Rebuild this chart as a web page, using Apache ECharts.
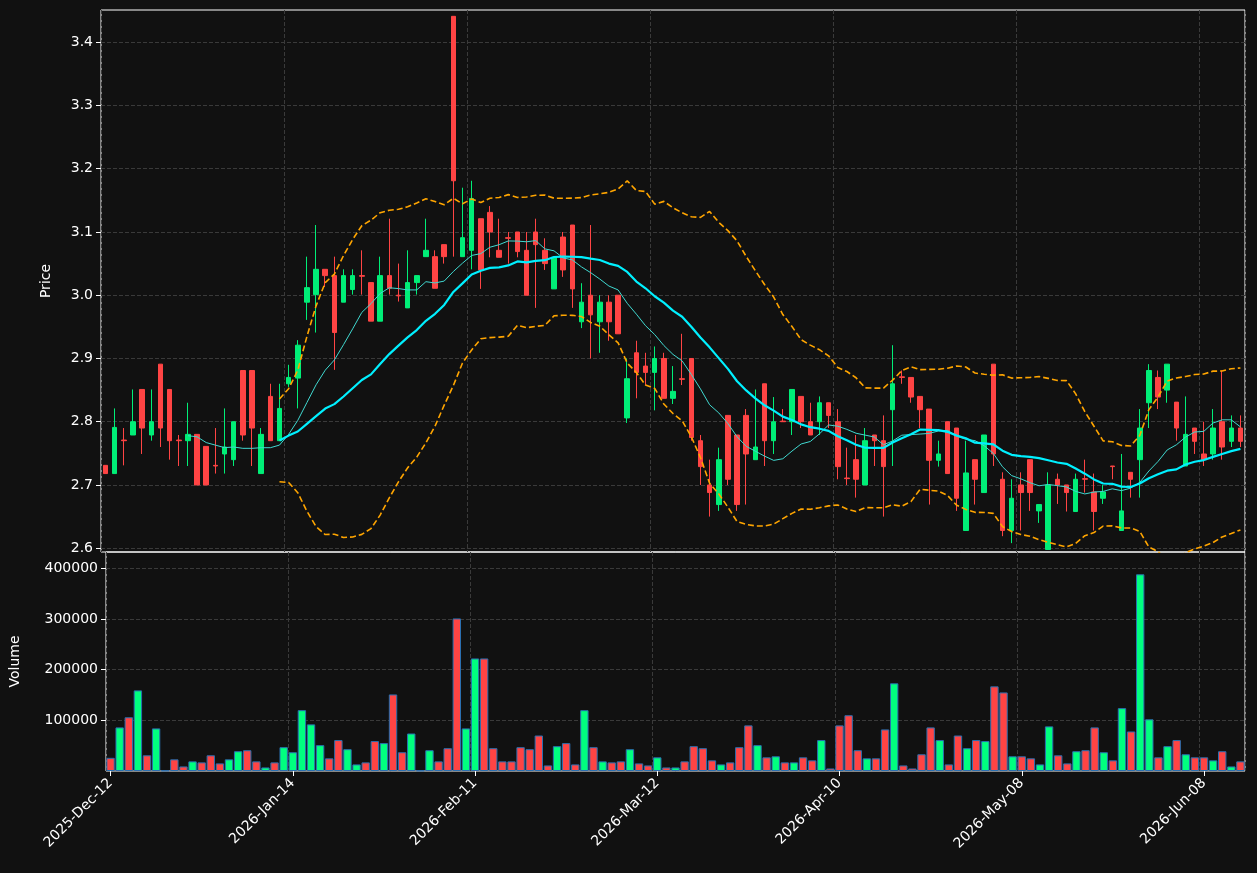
<!DOCTYPE html>
<html>
<head>
<meta charset="utf-8">
<script src="https://cdn.jsdelivr.net/npm/echarts@6/dist/echarts.min.js"></script>
<style>
html, body { margin: 0; padding: 0; background: #111111; }
#chart { width: 1257px; height: 873px; }
</style>
</head>
<body>
<div id="chart"></div>
<script>
// trading day labels: weekdays, holidays skipped
var startDate = '2025-12-12';
var holidays = ['2025-12-25', '2025-12-26', '2026-01-01', '2026-02-16', '2026-04-03', '2026-05-25'];

var opens = [2.731,2.718,2.771,2.779,2.851,2.779,2.891,2.851,2.771,2.770,
  2.780,2.761,2.731,2.749,2.740,2.881,2.881,2.718,2.840,2.770,
  2.860,2.869,2.989,3.001,3.041,3.031,2.989,3.009,3.031,3.020,
  2.959,3.031,3.000,2.980,3.020,3.061,3.061,3.080,3.441,3.061,
  3.071,3.121,3.131,3.071,3.091,3.100,3.071,3.100,3.071,3.010,
  3.092,3.111,2.958,3.000,2.958,2.989,3.000,2.806,2.909,2.888,
  2.878,2.900,2.837,2.868,2.900,2.770,2.700,2.669,2.810,2.779,
  2.810,2.740,2.860,2.770,2.801,2.800,2.840,2.800,2.800,2.830,
  2.800,2.711,2.740,2.700,2.779,2.770,2.819,2.871,2.870,2.840,
  2.820,2.739,2.800,2.790,2.628,2.740,2.688,2.891,2.709,2.628,
  2.700,2.740,2.659,2.598,2.709,2.700,2.658,2.710,2.689,2.679,
  2.730,2.628,2.720,2.740,2.830,2.870,2.850,2.831,2.730,2.790,
  2.749,2.749,2.800,2.769,2.790];
var closes = [2.718,2.791,2.770,2.800,2.790,2.800,2.790,2.770,2.770,2.780,
  2.700,2.700,2.730,2.760,2.800,2.779,2.790,2.780,2.770,2.821,
  2.870,2.921,3.012,3.041,3.031,2.941,3.031,3.031,3.030,2.959,
  3.031,3.011,2.999,3.020,3.031,3.071,3.011,3.061,3.181,3.091,
  3.153,3.040,3.100,3.060,3.090,3.069,3.000,3.080,3.050,3.060,
  3.040,3.010,2.989,2.969,2.989,2.958,2.939,2.868,2.878,2.878,
  2.900,2.837,2.848,2.867,2.775,2.729,2.688,2.740,2.709,2.669,
  2.749,2.760,2.770,2.800,2.800,2.851,2.800,2.779,2.830,2.810,
  2.729,2.710,2.709,2.770,2.770,2.729,2.860,2.870,2.839,2.819,
  2.739,2.749,2.718,2.679,2.719,2.709,2.779,2.749,2.628,2.679,
  2.688,2.688,2.669,2.700,2.700,2.688,2.709,2.709,2.658,2.689,
  2.729,2.659,2.709,2.790,2.881,2.839,2.891,2.790,2.780,2.769,
  2.740,2.790,2.760,2.790,2.769];
var lows = [2.718,2.718,2.731,2.779,2.749,2.770,2.760,2.740,2.730,2.730,
  2.700,2.700,2.718,2.718,2.730,2.770,2.730,2.718,2.770,2.770,
  2.855,2.821,2.961,2.941,3.013,2.882,2.989,3.001,3.001,2.959,
  2.959,3.001,2.990,2.980,3.001,3.061,3.011,3.050,3.061,3.061,
  3.041,3.010,3.060,3.060,3.050,3.060,3.000,2.980,3.040,3.010,
  3.029,2.980,2.948,2.900,2.909,2.928,2.939,2.798,2.837,2.858,
  2.818,2.837,2.828,2.858,2.770,2.700,2.650,2.659,2.700,2.659,
  2.669,2.740,2.730,2.749,2.800,2.779,2.790,2.779,2.779,2.790,
  2.709,2.700,2.680,2.700,2.730,2.650,2.730,2.860,2.830,2.790,
  2.669,2.729,2.718,2.659,2.628,2.669,2.688,2.730,2.619,2.608,
  2.628,2.659,2.640,2.598,2.670,2.658,2.658,2.688,2.628,2.670,
  2.709,2.628,2.680,2.680,2.790,2.820,2.830,2.770,2.730,2.749,
  2.730,2.740,2.740,2.760,2.760];
var highs = [2.731,2.821,2.790,2.851,2.851,2.851,2.891,2.851,2.779,2.830,
  2.780,2.761,2.790,2.821,2.800,2.881,2.881,2.790,2.860,2.860,
  2.890,2.929,3.061,3.111,3.041,3.061,3.041,3.041,3.071,3.020,
  3.061,3.121,3.050,3.071,3.031,3.121,3.071,3.080,3.441,3.170,
  3.181,3.121,3.141,3.121,3.100,3.100,3.100,3.121,3.090,3.060,
  3.100,3.111,3.019,3.111,3.000,3.000,3.000,2.900,2.928,2.909,
  2.919,2.909,2.888,2.939,2.900,2.779,2.740,2.759,2.810,2.779,
  2.820,2.851,2.860,2.839,2.820,2.851,2.840,2.830,2.840,2.830,
  2.820,2.759,2.779,2.790,2.779,2.810,2.921,2.881,2.870,2.840,
  2.820,2.770,2.800,2.790,2.770,2.740,2.779,2.891,2.720,2.709,
  2.720,2.740,2.669,2.720,2.718,2.700,2.718,2.740,2.718,2.700,
  2.730,2.749,2.720,2.820,2.891,2.881,2.891,2.831,2.840,2.790,
  2.800,2.820,2.881,2.810,2.810];
var volumes = [26000,86000,106000,159000,31000,84000,1000,23000,9000,19000,
  17000,31000,15000,23000,39000,41000,19000,7000,17000,47000,
  37000,120000,92000,51000,25000,61000,43000,13000,17000,59000,
  55000,151000,37000,74000,1000,41000,19000,45000,301000,84000,
  222000,222000,45000,19000,19000,47000,43000,70000,11000,49000,
  55000,13000,120000,47000,19000,17000,19000,43000,15000,11000,
  27000,7000,7000,19000,49000,45000,21000,13000,17000,47000,
  90000,51000,27000,29000,17000,17000,27000,21000,61000,5000,
  90000,110000,41000,25000,25000,82000,173000,11000,5000,33000,
  86000,61000,13000,70000,45000,61000,59000,167000,155000,29000,
  29000,25000,13000,88000,31000,15000,39000,41000,86000,37000,
  21000,124000,78000,388000,102000,27000,49000,61000,33000,27000,
  27000,21000,39000,9000,19000];

var monthNames = ['Jan','Feb','Mar','Apr','May','Jun','Jul','Aug','Sep','Oct','Nov','Dec'];
function pad(n) { return n < 10 ? '0' + n : '' + n; }
var dates = [];
var d = new Date(startDate + 'T00:00:00Z');
while (dates.length < closes.length) {
    var iso = d.getUTCFullYear() + '-' + pad(d.getUTCMonth() + 1) + '-' + pad(d.getUTCDate());
    var wd = d.getUTCDay();
    if (wd !== 0 && wd !== 6 && holidays.indexOf(iso) < 0) {
        dates.push(d.getUTCFullYear() + '-' + monthNames[d.getUTCMonth()] + '-' + pad(d.getUTCDate()));
    }
    d.setUTCDate(d.getUTCDate() + 1);
}

// indicators from closes
function movingAvg(n) {
    return closes.map(function (c, i) {
        if (i < n - 1) return '-';
        var s = 0;
        for (var k = i - n + 1; k <= i; k++) s += closes[k];
        return s / n;
    });
}
var ma10 = movingAvg(10);
var ma20 = movingAvg(20);
var bbUp = [], bbDn = [];
closes.forEach(function (c, i) {
    if (i < 19) { bbUp.push('-'); bbDn.push('-'); return; }
    var m = ma20[i], v = 0;
    for (var k = i - 19; k <= i; k++) v += (closes[k] - m) * (closes[k] - m);
    var sd = Math.sqrt(v / 20);
    bbUp.push(m + 2 * sd);
    bbDn.push(m - 2 * sd);
});

var upColor = '#00ee77', downColor = '#ff4444';
var candles = closes.map(function (c, i) { return [opens[i], c, lows[i], highs[i]]; });
var volBars = volumes.map(function (v, i) {
    return {
        value: v,
        itemStyle: { color: closes[i] >= opens[i] ? '#00ff7f' : downColor }
    };
});

var gridLine = { show: true, lineStyle: { color: '#3a3a3a', type: 'dashed' } };
var txt = { color: '#ffffff', fontSize: 14, fontFamily: 'DejaVu Sans' };

var myChart = echarts.init(document.getElementById('chart'));
var option = {
    backgroundColor: '#111111',
    animation: false,
    grid: [
        { left: 101, right: 12, top: 10, height: 542, show: true, borderColor: '#ffffff', borderWidth: 1, backgroundColor: 'transparent' },
        { left: 101, right: 12, top: 552, height: 219, show: true, borderColor: '#ffffff', borderWidth: 1, backgroundColor: 'transparent' }
    ],
    xAxis: [
        {
            type: 'category', gridIndex: 0, data: dates, boundaryGap: true,
            axisLine: { show: false }, axisTick: { show: false }, axisLabel: { show: false },
            splitLine: Object.assign({ interval: 19 }, gridLine)
        },
        {
            type: 'category', gridIndex: 1, data: dates, boundaryGap: true,
            axisLine: { show: false },
            axisTick: { show: true, interval: 19, alignWithLabel: true, length: 5, lineStyle: { color: '#ffffff' } },
            axisLabel: Object.assign({ interval: 19, rotate: 45, margin: 10 }, txt),
            splitLine: Object.assign({ interval: 19 }, gridLine)
        }
    ],
    yAxis: [
        {
            type: 'value', gridIndex: 0, min: 2.594, max: 3.451, scale: true,
            name: 'Price', nameLocation: 'middle', nameGap: 48, nameTextStyle: txt,
            axisLine: { show: false },
            axisTick: { show: true, length: 5, lineStyle: { color: '#ffffff' }, customValues: [2.6, 2.7, 2.8, 2.9, 3.0, 3.1, 3.2, 3.3, 3.4] },
            axisLabel: Object.assign({ customValues: [2.6, 2.7, 2.8, 2.9, 3.0, 3.1, 3.2, 3.3, 3.4], formatter: function (v) { return v.toFixed(1); } }, txt),
            splitLine: gridLine
        },
        {
            type: 'value', gridIndex: 1, min: 0, max: 432000,
            name: 'Volume', nameLocation: 'middle', nameGap: 84, nameTextStyle: txt,
            axisLine: { show: false },
            axisTick: { show: true, length: 5, lineStyle: { color: '#ffffff' }, customValues: [100000, 200000, 300000, 400000] },
            axisLabel: Object.assign({ customValues: [100000, 200000, 300000, 400000], formatter: function (v) { return String(v); } }, txt),
            splitLine: gridLine
        }
    ],
    series: [
        {
            name: 'Candles', type: 'candlestick', xAxisIndex: 0, yAxisIndex: 0, data: candles,
            barWidth: '55%',
            itemStyle: { color: upColor, color0: downColor, borderColor: upColor, borderColor0: downColor, borderWidth: 1 }
        },
        {
            name: 'MA10', type: 'line', data: ma10, showSymbol: false, smooth: false,
            lineStyle: { color: '#40d8d0', width: 1 }
        },
        {
            name: 'MA20', type: 'line', data: ma20, showSymbol: false,
            lineStyle: { color: '#00f0ff', width: 2.2 }
        },
        {
            name: 'BB Upper', type: 'line', data: bbUp, showSymbol: false,
            lineStyle: { color: '#ffa500', width: 1.6, type: [6, 3] }
        },
        {
            name: 'BB Lower', type: 'line', data: bbDn, showSymbol: false,
            lineStyle: { color: '#ffa500', width: 1.6, type: [6, 3] }
        },
        {
            name: 'Volume', type: 'bar', xAxisIndex: 1, yAxisIndex: 1, data: volBars,
            barWidth: '92%',
            itemStyle: { borderColor: '#2a6fb0', borderWidth: 1 }
        }
    ]
};
myChart.setOption(option);
</script>
</body>
</html>
